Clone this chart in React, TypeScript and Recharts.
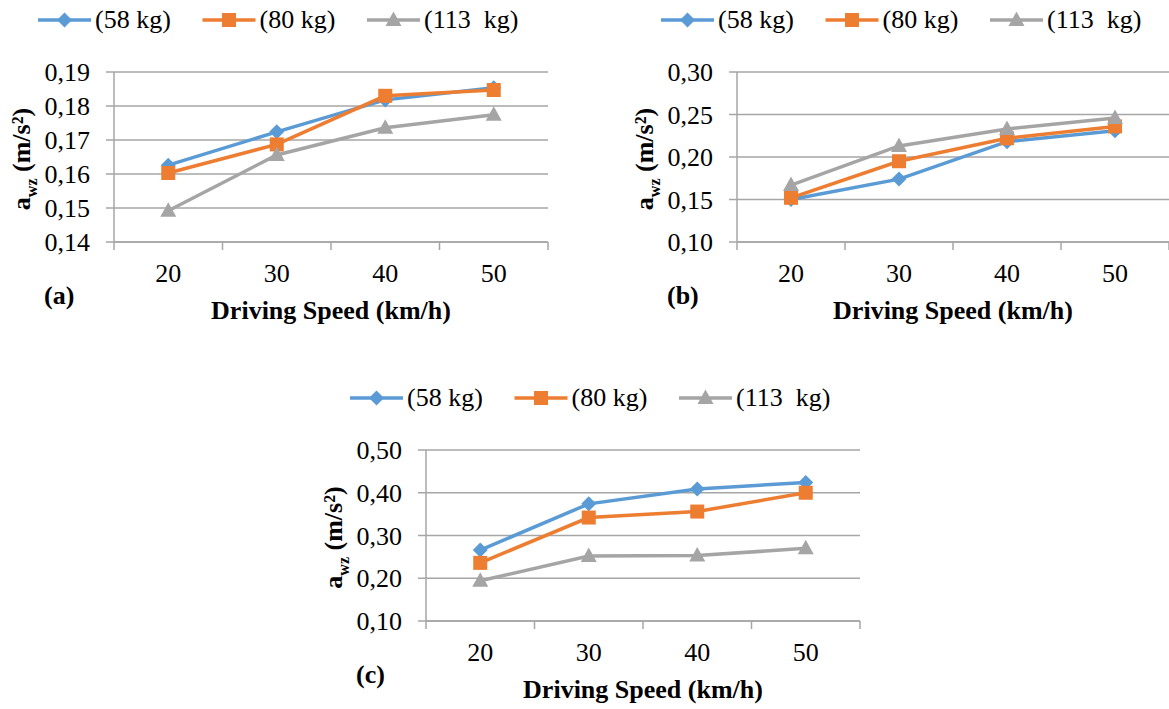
import React from "react"
import { LineChart, Line, XAxis, YAxis, CartesianGrid, Legend } from "recharts"

const speeds = [20, 30, 40, 50]
const xTicks = [15, 20, 25, 30, 35, 40, 45, 50, 55]
const seriesNames = ["(58 kg)", "(80 kg)", "(113  kg)"]

// panel (a)
const a58 = [0.1626, 0.1724, 0.1818, 0.1854]
const a80 = [0.1603, 0.1687, 0.183, 0.1847]
const a113 = [0.1492, 0.1656, 0.1736, 0.1774]
const aTicks = [0.14, 0.15, 0.16, 0.17, 0.18, 0.19]

// panel (b)
const b58 = [0.15, 0.174, 0.218, 0.231]
const b80 = [0.152, 0.195, 0.222, 0.236]
const b113 = [0.167, 0.213, 0.233, 0.246]
const bTicks = [0.1, 0.15, 0.2, 0.25, 0.3]

// panel (c)
const c58 = [0.266, 0.374, 0.409, 0.424]
const c80 = [0.236, 0.342, 0.356, 0.4]
const c113 = [0.194, 0.252, 0.253, 0.27]
const cTicks = [0.1, 0.2, 0.3, 0.4, 0.5]

const COLORS = ["#5b9bd5", "#ed7d31", "#a5a5a5"]
const GRID = "#a6a6a6"
const FONT = "Liberation Serif, Times New Roman, DejaVu Serif, serif"
const txt = { fontFamily: FONT, fontSize: 26, fill: "#000" }
const AXIS_W = 114
const TOP = 72

const rows = (s1: number[], s2: number[], s3: number[]) =>
  speeds.map((speed, i) => ({ speed, s1: s1[i], s2: s2[i], s3: s3[i] }))

const fmt = (v: number) => v.toFixed(2).replace(".", ",")

function marker(kind: number, cx: number, cy: number, key?: string) {
  const color = COLORS[kind]
  if (kind === 0)
    return <path key={key} d={`M${cx} ${cy - 7.5}L${cx + 7.5} ${cy}L${cx} ${cy + 7.5}L${cx - 7.5} ${cy}Z`} fill={color} />
  if (kind === 1) return <rect key={key} x={cx - 7} y={cy - 7} width={14} height={14} fill={color} />
  return <path key={key} d={`M${cx} ${cy - 8.5}L${cx + 8} ${cy + 6}L${cx - 8} ${cy + 6}Z`} fill={color} />
}

const LegendRow = () => (
  <svg width={560} height={40} style={{ display: "block" }}>
    {seriesNames.map((name, k) => {
      const x0 = AXIS_W - 76 + k * 164.5
      return (
        <g key={name}>
          <line x1={x0} x2={x0 + 53} y1={20} y2={20} stroke={COLORS[k]} strokeWidth={3.5} />
          {marker(k, x0 + 26.5, 20)}
          <text x={x0 + 57} y={28} style={{ ...txt, whiteSpace: "pre" }}>
            {name}
          </text>
        </g>
      )
    })}
  </svg>
)

const YTick = (p: any) => (
  <text x={p.x} y={p.y + 9} textAnchor="end" style={txt}>
    {fmt(p.payload.value)}
  </text>
)

const XTick = (p: any) => {
  const v = p.payload.value
  if (speeds.includes(v))
    return (
      <text x={p.x} y={p.y + 40} textAnchor="middle" style={txt}>
        {v}
      </text>
    )
  return <line x1={p.x} x2={p.x} y1={p.y} y2={p.y + 8} stroke={GRID} strokeWidth={1.5} />
}

const YLabel = (p: any) => {
  const vb = p.viewBox
  const x = vb.x + vb.width - 84
  const y = vb.y + vb.height / 2 + 2
  return (
    <text
      transform={`translate(${x},${y}) rotate(-90)`}
      textAnchor="middle"
      style={{ ...txt, fontWeight: "bold" }}
    >
      a
      <tspan style={{ fontSize: 16 }} dy={7}>
        wz
      </tspan>
      <tspan dy={-7}> (m/s²)</tspan>
    </text>
  )
}

function Panel(props: {
  left: number
  top: number
  width: number
  height: number
  plotW: number
  plotH: number
  data: any[]
  ticks: number[]
  letter: string
}) {
  const { left, top, width, height, plotW, plotH, data, ticks, letter } = props
  const XLabel = (p: any) => {
    const vb = p.viewBox
    return (
      <g>
        <text x={vb.x + vb.width / 2} y={vb.y + 77} textAnchor="middle" style={{ ...txt, fontWeight: "bold" }}>
          Driving Speed (km/h)
        </text>
        <text x={vb.x - 70} y={vb.y + 62} style={{ ...txt, fontWeight: "bold" }}>
          {letter}
        </text>
      </g>
    )
  }
  return (
    <div style={{ position: "absolute", left, top }}>
      <LineChart
        width={width}
        height={height}
        data={data}
        margin={{ top: TOP, right: width - AXIS_W - plotW, left: 0, bottom: 0 }}
      >
        <Legend
          layout="horizontal"
          verticalAlign="middle"
          align="center"
          content={() => <LegendRow />}
          wrapperStyle={{ position: "absolute", left: 0, top: 0, width: 560, height: 40 }}
        />
        <CartesianGrid vertical={false} stroke={GRID} strokeWidth={1.5} />
        <XAxis
          dataKey="speed"
          type="number"
          domain={[15, 55]}
          ticks={xTicks}
          interval={0}
          tickSize={0}
          tickMargin={0}
          tickLine={false}
          axisLine={{ stroke: GRID, strokeWidth: 1.5 }}
          height={height - TOP - plotH}
          tick={(p: any) => <XTick {...p} />}
          label={(p: any) => <XLabel {...p} />}
        />
        <YAxis
          type="number"
          domain={[ticks[0], ticks[ticks.length - 1]]}
          ticks={ticks}
          interval={0}
          width={AXIS_W}
          tickSize={8}
          tickMargin={16}
          axisLine={{ stroke: GRID, strokeWidth: 1.5 }}
          tickLine={{ stroke: GRID, strokeWidth: 1.5 }}
          tick={(p: any) => <YTick {...p} />}
          label={(p: any) => <YLabel {...p} />}
        />
        {["s1", "s2", "s3"].map((key, k) => (
          <Line
            key={key}
            dataKey={key}
            stroke={COLORS[k]}
            strokeWidth={3.5}
            dot={(p: any) => marker(k, p.cx, p.cy, `${key}-${p.index}`)}
            activeDot={false}
            isAnimationActive={false}
          />
        ))}
      </LineChart>
    </div>
  )
}

export default function App() {
  return (
    <div style={{ position: "absolute", left: 0, top: 0, width: 1169, height: 709, background: "#fff", overflow: "hidden" }}>
      <Panel left={0} top={0} width={584} height={340} plotW={434} plotH={170} data={rows(a58, a80, a113)} ticks={aTicks} letter="(a)" />
      <Panel left={623} top={0} width={546} height={340} plotW={432} plotH={170} data={rows(b58, b80, b113)} ticks={bTicks} letter="(b)" />
      <Panel left={312} top={378} width={584} height={331} plotW={434} plotH={171} data={rows(c58, c80, c113)} ticks={cTicks} letter="(c)" />
    </div>
  )
}
